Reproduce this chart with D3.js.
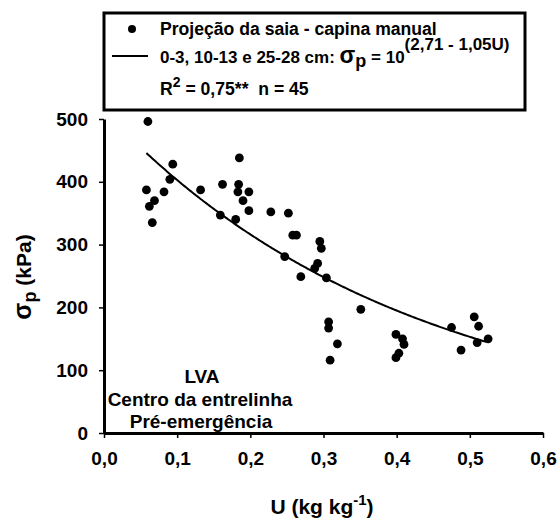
<!DOCTYPE html>
<html>
<head>
<meta charset="utf-8">
<script src="https://cdn.jsdelivr.net/npm/d3@7"></script>
<style>
  html, body { margin: 0; padding: 0; background: #fff; }
  svg { display: block; font-family: "Liberation Sans", Arial, sans-serif; font-weight: bold; }
</style>
</head>
<body>
<svg id="chart" width="559" height="522"></svg>
<script>
// Moisture content U (kg kg-1) and preconsolidation pressure (kPa), n = 45
const moisture = [
  0.060, 0.058, 0.094, 0.090, 0.069, 0.062, 0.066, 0.082, 0.132, 0.162,
  0.185, 0.184, 0.183, 0.198, 0.190, 0.198, 0.180, 0.159, 0.228, 0.252,
  0.258, 0.263, 0.247, 0.269, 0.295, 0.297, 0.292, 0.288, 0.304, 0.351,
  0.307, 0.307, 0.319, 0.309, 0.399, 0.408, 0.410, 0.403, 0.399, 0.475,
  0.506, 0.512, 0.488, 0.510, 0.525
];
const pressure = [
  496, 387, 428, 404, 370, 361, 335, 384, 387, 396,
  438, 396, 384, 384, 370, 354, 340, 347, 352, 350,
  315, 315, 281, 249, 305, 294, 270, 262, 247, 197,
  177, 167, 142, 116, 157, 150, 141, 127, 120, 168,
  185, 170, 132, 144, 150
];
const xTicks = [0, 0.1, 0.2, 0.3, 0.4, 0.5, 0.6];
const yTicks = [0, 100, 200, 300, 400, 500];
// Fitted model: sigma_p = 10^(a - b*U), drawn over the observed range
const fitA = 2.71, fitB = 1.05;
const fitRange = [0.058, 0.522];

const svg = d3.select("#chart");
const x = d3.scaleLinear().domain([0, 0.6]).range([104, 543]);
const y = d3.scaleLinear().domain([0, 500]).range([433, 119]);
const fmt = d => d3.format(".1f")(d).replace(".", ",");

// Axes
const xAxis = svg.append("g").attr("transform", "translate(0,433)")
  .call(d3.axisBottom(x).tickValues(xTicks).tickFormat(fmt).tickSize(5).tickSizeOuter(0));
const yAxis = svg.append("g").attr("transform", "translate(104,0)")
  .call(d3.axisLeft(y).tickValues(yTicks).tickSize(5).tickSizeOuter(0));
[xAxis, yAxis].forEach(g => {
  g.select(".domain").attr("stroke", "#000").attr("stroke-width", 3);
  g.selectAll(".tick line").attr("stroke", "#000").attr("stroke-width", 1.5);
  g.selectAll(".tick text").attr("fill", "#000")
    .style("font-size", "19px").style("font-weight", "bold")
    .style("font-family", "'Liberation Sans', Arial, sans-serif");
});
xAxis.selectAll(".tick text").attr("y", 19);
yAxis.selectAll(".tick text").attr("x", -16);

// Axis titles
svg.append("text").attr("x", 322).attr("y", 514).attr("text-anchor", "middle")
  .style("font-size", "21px")
  .call(t => {
    t.append("tspan").text("U (kg kg");
    t.append("tspan").attr("dy", -9).style("font-size", "15px").text("-1");
    t.append("tspan").attr("dy", 9).text(")");
  });
svg.append("text").attr("transform", "translate(31,277) rotate(-90)")
  .attr("text-anchor", "middle").style("font-size", "21px")
  .call(t => {
    t.append("tspan").style("font-size", "25px").text("σ");
    t.append("tspan").attr("dy", 5).style("font-size", "18px").text("p");
    t.append("tspan").attr("dy", -5).text(" (kPa)");
  });

// Fitted curve
const curveU = d3.range(fitRange[0], fitRange[1] + 1e-9, 0.002);
svg.append("path")
  .datum(curveU)
  .attr("fill", "none").attr("stroke", "#000").attr("stroke-width", 2)
  .attr("d", d3.line().x(u => x(u)).y(u => y(Math.pow(10, fitA - fitB * u))));

// Observations
svg.append("g").selectAll("circle")
  .data(moisture.map((u, i) => [u, pressure[i]]))
  .join("circle")
  .attr("cx", d => x(d[0])).attr("cy", d => y(d[1])).attr("r", 4.4)
  .attr("fill", "#000");

// Site annotation
const note = svg.append("g").attr("text-anchor", "middle").style("font-size", "19px");
note.append("text").attr("x", 202).attr("y", 383).text("LVA");
note.append("text").attr("x", 200).attr("y", 406).text("Centro da entrelinha");
note.append("text").attr("x", 201).attr("y", 428).text("Pré-emergência");

// Legend
const leg = svg.append("g").style("font-size", "17.6px");
leg.append("rect").attr("x", 104).attr("y", 13).attr("width", 421).attr("height", 97)
  .attr("fill", "#fff").attr("stroke", "#000").attr("stroke-width", 3);
leg.append("circle").attr("cx", 132).attr("cy", 29).attr("r", 4).attr("fill", "#000");
leg.append("line").attr("x1", 112).attr("x2", 148).attr("y1", 56).attr("y2", 56)
  .attr("stroke", "#000").attr("stroke-width", 2);
leg.append("text").attr("x", 160).attr("y", 35)
  .text("Projeção da saia - capina manual");
leg.append("text").attr("x", 160).attr("y", 63).style("font-size", "17px")
  .call(t => {
    t.append("tspan").text("0-3, 10-13 e 25-28 cm: ");
    t.append("tspan").style("font-size", "23px").text("σ");
    t.append("tspan").attr("dy", 4).style("font-size", "18px").text("p");
    t.append("tspan").attr("dy", -4).text(" = 10");
    t.append("tspan").attr("dy", -13).text("(2,71 - 1,05U)");
  });
leg.append("text").attr("x", 160).attr("y", 95)
  .call(t => {
    t.append("tspan").text("R");
    t.append("tspan").attr("dy", -8).style("font-size", "14px").text("2");
    t.append("tspan").attr("dy", 8).text(" = 0,75**\u00a0\u00a0n = 45");
  });
</script>
</body>
</html>
